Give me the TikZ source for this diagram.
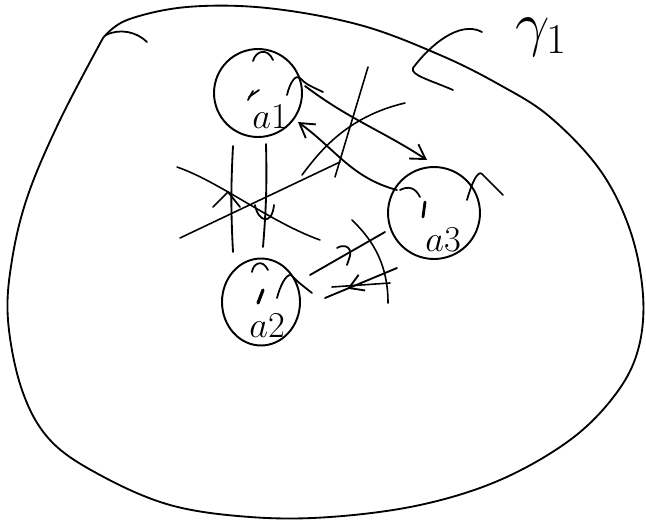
\documentclass[tikz,border=0pt]{standalone}
\usetikzlibrary{arrows.meta,shapes.geometric,decorations.markings}

\begin{document}
\begin{tikzpicture}[
  x=0.02cm, y=0.02cm,
  line width=1.05pt, line cap=round, line join=round,
  agent/.style={draw, circle, inner sep=0pt, line width=1.1pt},
  tag/.style={inner sep=0pt, font=\fontsize{20}{24}\selectfont},
  hair/.style={line width=1pt},
  strike/.style={line width=0.9pt},
  arrow/.style={-{Straight Barb[length=2.8mm, width=3.4mm]}},
  midarrow/.style={postaction={decorate}, decoration={markings,
    mark=at position #1 with {\arrow{Straight Barb[length=2.8mm, width=3.4mm]}}}}
]
\useasboundingbox (0,0) rectangle (646,522);

\draw plot[smooth, tension=0.6] coordinates {
  (103,484) (127,502) (187,515) (267,514) (360,497) (440,467) (500,437)
  (550,405) (600,352) (630,292) (643,227) (638,172) (615,127) (570,82)
  (500,42) (420,17) (330,5) (250,5) (170,17) (100,47) (50,82) (22,132)
  (8,202) (12,262) (28,327) (60,402) (103,484)};
\draw[hair] (106,487) .. controls (120,494) and (137,490) .. (147,480);

\node[agent, minimum size=1.76cm] (a1) at (258,429) {};
\node[agent, minimum size=1.84cm] (a3) at (434,309) {};
\node[agent, ellipse, minimum width=1.56cm, minimum height=1.74cm] (a2) at (261,220) {};

\node[tag] (t1) at (270,405) {$a1$};
\node[tag] (t3) at (443,282) {$a3$};
\node[tag] (t2) at (267,196) {$a2$};

\node[tag, font=\Huge, scale=1.4, anchor=base west] (g1) at (514,478) {$\gamma_{\scriptscriptstyle 1}$};
\draw[hair] (482,490) .. controls (460,502) and (430,477) .. (413,454)
  .. controls (410,447) and (430,442) .. (453,432);

% arrows between the circles
\draw[arrow] ([shift={(47,7)}]a1.center) to[out=-37, in=147] ([shift={(-7,53)}]a3.center);
\draw[arrow] ([shift={(-37,23)}]a3.center) to[out=165, in=-36] ([shift={(40,-29)}]a1.center);
\draw ([shift={(49,27)}]a2.center) -- ([shift={(-49,-19)}]a3.center);
\draw[midarrow=0.69] ([shift={(-37,-55)}]a3.center) -- ([shift={(64,4)}]a2.center);
\draw ([shift={(-25,-53)}]a1.center) to[bend right=3] ([shift={(-28,50)}]a2.center);
\draw ([shift={(8,-51)}]a1.center) to[bend left=3] ([shift={(2,55)}]a2.center);

% crossings
\draw[strike] (368,455) -- (335,345);
\draw[strike] (302,347) .. controls (318,368) and (345,405) .. (405,419);
\draw[strike] (177,355) .. controls (220,340) and (270,300) .. (320,282);
\draw[strike] (180,284) -- (340,360);
\draw[strike] (352,302) .. controls (375,280) and (388,255) .. (388,219);
\draw[strike] (332,235) -- (390,239);
\draw[hair] (337,274) .. controls (343,278) and (352,276) .. (350,266)
  .. controls (349,262) .. (347,257);
\draw[hair] (213,315) -- (228,330) -- (240,315);
\draw[hair] (255,317) .. controls (258,300) and (272,296) .. (274,317);

% hair and eyes
\draw[hair] (253,461) .. controls (256,472) and (268,474) .. (273,462);
\draw[hair] (287,427) .. controls (290,440) and (296,448) .. (300,444)
  .. controls (306,438) .. (323,430);
\draw[hair] (467,322) .. controls (472,340) and (478,352) .. (482,348)
  .. controls (490,340) .. (503,327);
\draw[hair] (400,332) .. controls (408,336) and (415,335) .. (420,325);
\draw[hair] (252,250) .. controls (253,258) and (262,264) .. (268,252);
\draw[hair] (277,224) .. controls (280,236) and (286,248) .. (291,247)
  .. controls (298,240) .. (312,229);
\draw[hair] (248,422) -- (253,431);
\draw[hair] (249,425) -- (259,432);
\draw[line width=1.6pt] (423,305) -- (425,320);
\draw[line width=1.8pt] (258,219) -- (263,232);

\end{tikzpicture}
\end{document}
